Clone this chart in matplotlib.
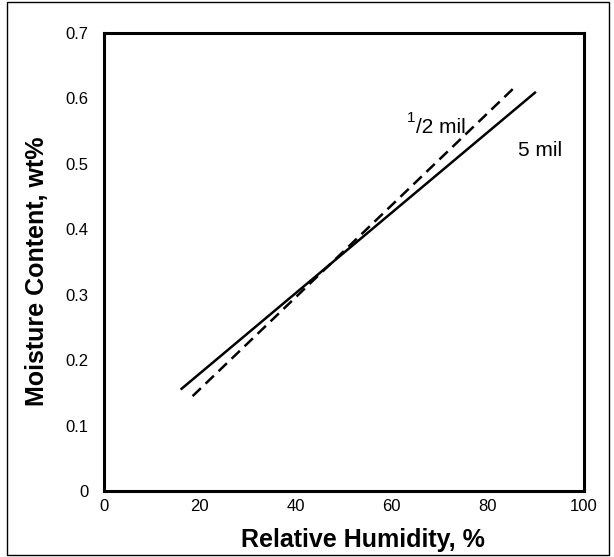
import matplotlib
matplotlib.use('agg')
import matplotlib.pyplot as plt
from matplotlib.patches import Rectangle

# line end points
rh_5mil = [16, 90]
mc_5mil = [0.155, 0.61]
rh_half = [18.5, 86]
mc_half = [0.145, 0.62]

xticks = [0, 20, 40, 60, 80, 100]
yticks = [0, 0.1, 0.2, 0.3, 0.4, 0.5, 0.6, 0.7]
ytick_labels = ['0', '0.1', '0.2', '0.3', '0.4', '0.5', '0.6', '0.7']

plt.rcParams['font.family'] = ['Liberation Sans', 'DejaVu Sans']

fig = plt.figure(figsize=(6.14, 5.57), dpi=100)
ax = fig.add_axes([0.169, 0.1185, 0.782, 0.8223])

ax.plot(rh_5mil, mc_5mil, color='black', lw=1.8, solid_capstyle='butt')
ax.plot(rh_half, mc_half, color='black', lw=1.8, dashes=(4.6, 2.6))

ax.set_xlim(0, 100)
ax.set_ylim(0, 0.7)
ax.set_xticks(xticks)
ax.set_yticks(yticks)
ax.set_yticklabels(ytick_labels)
ax.tick_params(length=0, labelsize=12)
ax.tick_params(axis='x', pad=6)
ax.tick_params(axis='y', pad=11)
for sp in ax.spines.values():
    sp.set_linewidth(2.2)

ax.set_xlabel('Relative Humidity, %', fontsize=18, fontweight='bold')
ax.set_ylabel('Moisture Content, wt%', fontsize=18, fontweight='bold')
ax.xaxis.set_label_coords(0.54, -0.081)
ax.yaxis.set_label_coords(-0.115, 0.48)

# curve labels
ax.text(63.2, 0.559, '1', fontsize=11, ha='left', va='bottom')
ax.annotate('/2 mil', (63.2, 0.555), xytext=(6.5, 0), textcoords='offset points',
            fontsize=15, ha='left', va='center')
ax.text(86.2, 0.521, '5 mil', fontsize=15, ha='left', va='center')

# thin frame round the whole figure
fig.patches.append(Rectangle((7 / 614, 2 / 557), 602 / 614, 553 / 557, transform=fig.transFigure,
                             fill=False, edgecolor='black', lw=1))

fig.savefig('out.png', dpi=100)
